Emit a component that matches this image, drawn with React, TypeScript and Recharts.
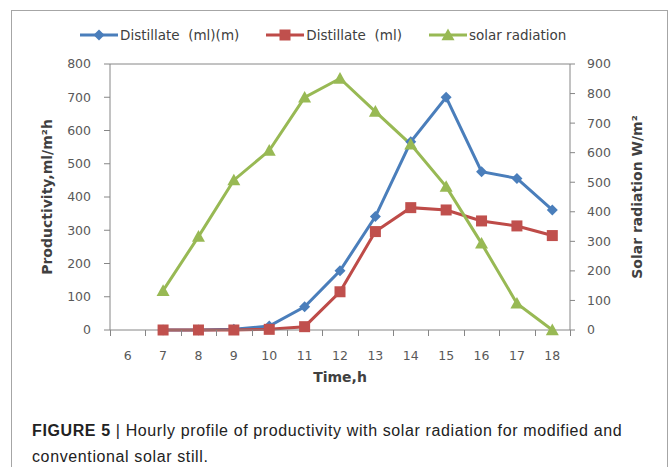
import React from 'react'
import { LineChart, Line, XAxis, YAxis, ReferenceLine } from 'recharts'

const HOURS = ['6', '7', '8', '9', '10', '11', '12', '13', '14', '15', '16', '17', '18']
const DISTILLATE_MODIFIED = [null, 0, 0, 2, 12, 70, 178, 341, 566, 700, 476, 456, 361]
const DISTILLATE_CONVENTIONAL = [null, 0, 0, 0, 2, 10, 115, 296, 368, 361, 328, 313, 284]
const SOLAR_RADIATION = [null, 133, 316, 507, 607, 787, 851, 739, 628, 485, 293, 90, 0]

const LEFT_TICKS = [0, 100, 200, 300, 400, 500, 600, 700, 800]
const RIGHT_TICKS = [0, 100, 200, 300, 400, 500, 600, 700, 800, 900]

const BLUE = '#4A7EBB'
const RED = '#BE4B48'
const GREEN = '#98B954'
const AXIS = '#868686'
const TICK_TEXT = '#595959'
const TITLE_TEXT = '#404040'

// plot box: left axis width / right axis width / top margin / x axis height
const CHART_W = 668
const CHART_H = 392
const LEFT_W = 110
const RIGHT_W = 98
const TOP = 64
const X_AXIS_H = 62
const PLOT_BOTTOM = CHART_H - X_AXIS_H
const PLOT_W = CHART_W - LEFT_W - RIGHT_W

const data = HOURS.map((h, i) => ({
  hour: h,
  modified: DISTILLATE_MODIFIED[i],
  conventional: DISTILLATE_CONVENTIONAL[i],
  solar: SOLAR_RADIATION[i],
}))

type DotProps = { cx?: number | null; cy?: number | null; index?: number }

const Diamond = ({ cx, cy }: DotProps) => {
  if (cx == null || cy == null) return <g />
  const r = 5.5
  return <polygon points={`${cx},${cy - r} ${cx + r},${cy} ${cx},${cy + r} ${cx - r},${cy}`} fill={BLUE} />
}

const Square = ({ cx, cy }: DotProps) => {
  if (cx == null || cy == null) return <g />
  const s = 11
  return <rect x={cx - s / 2} y={cy - s / 2} width={s} height={s} fill="#C0504D" />
}

const Triangle = ({ cx, cy }: DotProps) => {
  if (cx == null || cy == null) return <g />
  const r = 6.5
  return <polygon points={`${cx},${cy - r} ${cx + r},${cy + r * 0.8} ${cx - r},${cy + r * 0.8}`} fill={GREEN} />
}

const legendItems = [
  { label: 'Distillate  (ml)(m)', color: BLUE, Marker: Diamond },
  { label: 'Distillate  (ml)', color: RED, Marker: Square },
  { label: 'solar radiation', color: GREEN, Marker: Triangle },
]

const tickStyle = { fontFamily: 'DejaVu Sans', fontSize: 12.5, fill: TICK_TEXT }
const titleStyle = { fontFamily: 'DejaVu Sans', fontSize: 14, fontWeight: 'bold', fill: TITLE_TEXT, textAnchor: 'middle' as const }

export default function App() {
  return (
    <div style={{ position: 'absolute', left: 0, top: 0, width: 668, height: 467, overflow: 'hidden', background: '#fff' }}>
      <div style={{ position: 'absolute', left: 11, top: 10, width: 655, height: 480, border: '1px solid #a6a6a6' }} />

      <div
        style={{
          position: 'absolute',
          top: 27,
          left: 80,
          display: 'flex',
          gap: 27,
          fontFamily: 'DejaVu Sans',
          fontSize: 13.5,
          color: TITLE_TEXT,
        }}
      >
        {legendItems.map(({ label, color, Marker }) => (
          <div key={label} style={{ display: 'flex', alignItems: 'center', gap: 2 }}>
            <svg width={38} height={16}>
              <line x1={0} y1={8} x2={38} y2={8} stroke={color} strokeWidth={3} />
              <Marker cx={19} cy={8} />
            </svg>
            <span style={{ whiteSpace: 'pre' }}>{label}</span>
          </div>
        ))}
      </div>

      <div style={{ position: 'absolute', left: 0, top: 0 }}>
        <LineChart width={CHART_W} height={CHART_H} data={data} margin={{ top: TOP, right: 0, bottom: 0, left: 0 }}>
          <XAxis
            dataKey="hour"
            scale="band"
            height={X_AXIS_H}
            axisLine={{ stroke: AXIS }}
            tickLine={false}
            tickSize={0}
            tickMargin={21}
            tick={tickStyle}
            interval={0}
            label={{ value: 'Time,h', position: 'center', dy: 16, style: titleStyle }}
          />
          <YAxis
            yAxisId="left"
            width={LEFT_W}
            domain={[0, 800]}
            ticks={LEFT_TICKS}
            interval={0}
            axisLine={{ stroke: AXIS }}
            tickLine={{ stroke: AXIS }}
            tickSize={6}
            tickMargin={13}
            tick={tickStyle}
            label={{ value: 'Productivity,ml/m²h', angle: -90, position: 'center', dx: -8, style: titleStyle }}
          />
          <YAxis
            yAxisId="right"
            orientation="right"
            width={RIGHT_W}
            domain={[0, 900]}
            ticks={RIGHT_TICKS}
            interval={0}
            axisLine={{ stroke: AXIS }}
            tickLine={{ stroke: AXIS }}
            tickSize={5}
            tickMargin={12}
            tick={{ ...tickStyle, textAnchor: 'start' }}
            label={{ value: 'Solar radiation W/m²', angle: -90, position: 'center', dx: 18, style: titleStyle }}
          />
          <ReferenceLine yAxisId="left" y={800} stroke={AXIS} />
          <Line
            yAxisId="left"
            dataKey="modified"
            stroke={BLUE}
            strokeWidth={3}
            dot={(p: DotProps) => <Diamond key={`d${p.index}`} {...p} />}
            activeDot={false}
            isAnimationActive={false}
          />
          <Line
            yAxisId="left"
            dataKey="conventional"
            stroke={RED}
            strokeWidth={3}
            dot={(p: DotProps) => <Square key={`s${p.index}`} {...p} />}
            activeDot={false}
            isAnimationActive={false}
          />
          <Line
            yAxisId="right"
            dataKey="solar"
            stroke={GREEN}
            strokeWidth={3}
            dot={(p: DotProps) => <Triangle key={`t${p.index}`} {...p} />}
            activeDot={false}
            isAnimationActive={false}
          />
        </LineChart>
      </div>

      {/* Excel-style category tick marks, between the categories */}
      <svg
        width={CHART_W}
        height={CHART_H}
        style={{ position: 'absolute', left: 0, top: 0, pointerEvents: 'none' }}
      >
        {Array.from({ length: HOURS.length + 1 }, (_, i) => {
          const x = Math.round(LEFT_W + (i * PLOT_W) / HOURS.length) + 0.5
          return <line key={i} x1={x} y1={PLOT_BOTTOM} x2={x} y2={PLOT_BOTTOM + 6} stroke={AXIS} />
        })}
      </svg>

      <div
        style={{
          position: 'absolute',
          left: 32,
          top: 418,
          width: 624,
          fontFamily: 'Liberation Sans, Arial, sans-serif',
          fontSize: 16,
          letterSpacing: 0.62,
          lineHeight: '26px',
          color: '#222',
        }}
      >
        <b>FIGURE 5</b> | Hourly profile of productivity with solar radiation for modified and conventional solar still.
      </div>
    </div>
  )
}
